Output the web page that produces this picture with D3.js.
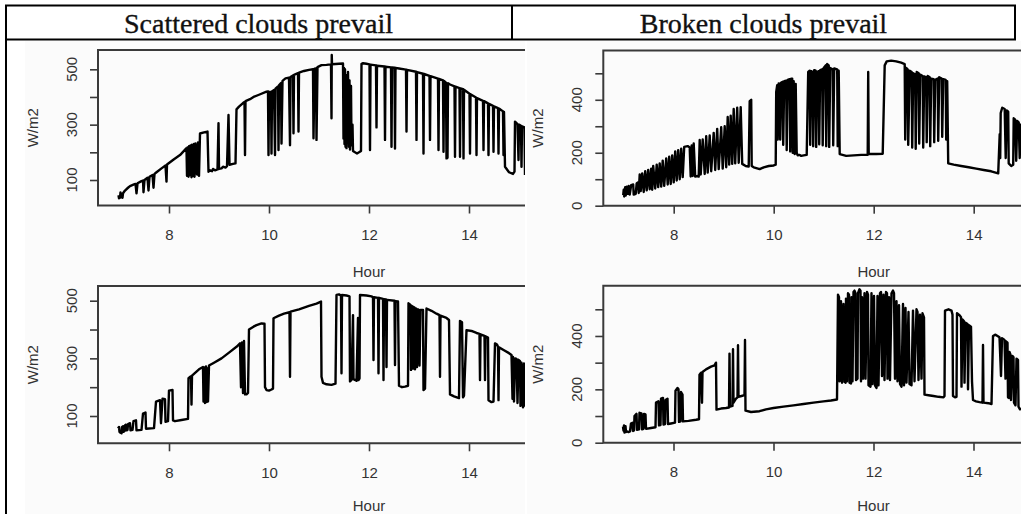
<!DOCTYPE html>
<html><head><meta charset="utf-8">
<script src="https://cdn.jsdelivr.net/npm/d3@7"></script>
<style>
html,body{margin:0;padding:0;background:#fff;}
svg{display:block;}
</style></head>
<body>
<svg id="chart" width="1021" height="514"></svg>
<script>
// ---------- DATA ----------
const headers = ["Scattered clouds prevail", "Broken clouds prevail"];
const xTicks = [8, 10, 12, 14, 16];
const yTicksLeft = [100, 200, 300, 400, 500];
const yLabelsLeft = [100, 300, 500];
const yTicksRight = [0, 100, 200, 300, 400, 500];
const yLabelsRight = [0, 200, 400];
const xTitle = "Hour";
const yTitle = "W/m2";

// [hour, W/m2]
const scatteredTop = [
[6.99,45],[7.00,34],[7.02,36],[7.03,55],[7.05,38],[7.07,36],[7.08,52],[7.12,62],[7.18,72],[7.22,78],
[7.30,84],[7.33,86],[7.35,52],[7.37,88],[7.45,96],[7.48,98],[7.49,56],[7.51,100],[7.57,108],[7.59,62],[7.61,112],[7.67,118],[7.69,72],[7.71,122],[7.75,128],
[7.85,142],[7.93,152],[7.95,94],[7.96,156],[8.10,175],[8.22,190],[8.35,215],
[8.36,115],[8.37,218],[8.39,112],[8.40,222],[8.42,118],[8.43,225],[8.45,110],[8.46,228],[8.48,115],[8.50,230],[8.51,112],[8.53,232],[8.56,120],[8.58,236],[8.60,115],[8.62,268],[8.70,272],[8.77,275],
[8.79,130],[8.82,135],[8.86,132],[8.88,140],[8.92,135],[8.97,138],[8.99,305],[9.00,140],[9.05,142],[9.08,148],[9.13,145],[9.16,150],[9.19,335],[9.21,155],[9.28,158],[9.33,160],[9.35,355],[9.40,365],[9.48,378],[9.51,382],[9.52,190],[9.53,385],[9.62,392],[9.69,400],
[9.80,408],[9.95,419],[9.98,420],[9.99,190],[10.00,418],[10.04,418],[10.05,196],[10.06,420],[10.10,425],[10.12,190],[10.13,430],[10.18,438],[10.19,208],[10.20,442],[10.24,450],[10.25,232],[10.27,458],[10.33,467],[10.40,470],[10.42,226],[10.43,472],[10.48,478],[10.49,269],[10.50,480],[10.58,486],[10.59,275],[10.60,488],[10.70,494],[10.80,498],[10.88,500],[10.89,251],[10.91,502],[10.94,503],[10.95,245],[10.97,508],[11.05,515],[11.15,516],[11.24,518],[11.25,323],[11.255,552],[11.26,518],[11.40,520],[11.48,521],
[11.49,250],[11.50,505],[11.51,230],[11.52,500],[11.53,220],[11.54,480],[11.55,215],[11.56,470],[11.57,235],[11.58,490],[11.60,220],[11.61,460],[11.62,210],[11.64,440],[11.65,225],[11.67,300],[11.68,205],[11.72,200],[11.76,196],[11.80,200],[11.84,205],[11.85,520],[11.88,522],[11.95,520],[12.01,518],[12.02,208],[12.03,517],[12.14,514],[12.15,290],[12.16,513],[12.31,510],[12.32,245],[12.33,509],[12.44,507],[12.45,220],[12.46,507],[12.51,506],[12.52,214],[12.53,505],[12.60,503],[12.74,499],[12.75,275],[12.76,498],[12.94,491],[12.95,245],[12.96,490],[13.08,484],[13.09,196],[13.10,483],[13.21,476],[13.22,245],[13.23,475],[13.38,466],[13.39,208],[13.40,465],[13.48,460],[13.49,202],[13.50,458],[13.54,452],[13.55,178],[13.57,180],[13.58,450],[13.62,445],[13.71,438],[13.72,184],[13.73,437],[13.81,432],[13.82,184],[13.83,431],[13.88,428],[13.89,178],[13.90,426],[14.01,412],[14.02,196],[14.03,410],[14.14,398],[14.15,190],[14.16,396],[14.28,386],[14.29,208],[14.30,385],[14.38,377],[14.39,190],[14.40,375],[14.48,368],[14.49,202],[14.50,366],[14.58,360],[14.59,196],[14.60,358],[14.68,348],[14.69,190],[14.70,346],[14.72,148],[14.80,128],[14.88,122],[14.91,130],[14.92,311],[14.97,302],[14.99,172],[15.00,300],[15.04,296],[15.05,148],[15.06,294],[15.11,290],[15.12,118]
];

const brokenTop = [
[6.99,40],[7.00,60],[7.01,35],[7.03,70],[7.04,38],[7.06,72],[7.08,45],[7.10,75],[7.12,42],[7.15,78],[7.19,80],[7.20,42],[7.24,45],[7.26,85],[7.29,88],[7.30,48],[7.32,118],[7.34,55],[7.37,122],[7.40,52],[7.43,130],[7.46,58],[7.49,135],[7.52,62],[7.55,140],[7.57,60],[7.59,150],[7.63,65],[7.66,155],[7.69,70],[7.72,160],[7.75,72],[7.78,170],[7.81,75],[7.85,178],[7.88,80],[7.91,185],[7.94,82],[7.97,190],[8.00,88],[8.03,205],[8.06,95],[8.09,210],[8.12,100],[8.15,215],[8.18,108],[8.21,222],[8.28,225],[8.32,220],[8.34,110],[8.36,228],[8.38,112],[8.40,235],[8.43,110],[8.47,112],[8.50,110],[8.52,248],[8.54,118],[8.58,250],[8.62,120],[8.65,262],[8.68,125],[8.72,265],[8.75,130],[8.80,275],[8.83,135],[8.87,290],[8.90,138],[8.95,296],[8.98,140],[9.02,300],[9.05,145],[9.08,335],[9.11,155],[9.14,340],[9.17,158],[9.20,365],[9.23,160],[9.27,370],[9.30,162],[9.34,372],[9.37,158],[9.44,150],[9.50,148],[9.52,395],[9.55,400],[9.56,150],[9.60,145],[9.72,138],
[9.80,145],[9.90,150],[10.00,152],[10.04,155],[10.05,430],[10.07,455],[10.08,250],[10.10,462],[10.12,460],[10.13,250],[10.15,465],[10.18,468],[10.19,230],[10.21,470],[10.25,472],[10.26,210],[10.28,475],[10.32,478],[10.33,205],[10.35,480],[10.37,480],[10.38,200],[10.40,470],[10.42,195],[10.44,460],[10.46,200],[10.48,190],[10.52,192],[10.55,188],[10.60,190],[10.66,192],[10.69,505],[10.72,510],[10.73,230],[10.75,508],[10.78,505],[10.79,225],[10.81,512],[10.84,510],[10.85,222],[10.87,505],[10.90,508],[10.91,232],[10.93,512],[10.97,515],[10.98,228],[11.00,520],[11.04,530],[11.05,225],[11.07,535],[11.10,530],[11.11,222],[11.13,520],[11.18,515],[11.19,228],[11.21,518],[11.27,515],[11.28,225],[11.30,510],[11.32,195],[11.45,188],[11.60,190],[11.75,192],[11.88,192],[11.89,505],[11.90,195],[12.05,195],[12.18,196],[12.22,530],[12.26,545],[12.35,548],[12.45,545],[12.55,540],[12.62,535],[12.63,250],[12.65,520],[12.68,515],[12.69,230],[12.72,510],[12.76,505],[12.77,220],[12.79,500],[12.83,495],[12.84,215],[12.86,505],[12.90,500],[12.91,235],[12.93,495],[12.98,490],[12.99,220],[13.01,488],[13.05,485],[13.06,240],[13.08,490],[13.12,485],[13.13,225],[13.15,480],[13.20,478],[13.21,240],[13.23,475],[13.28,480],[13.29,245],[13.31,485],[13.36,480],[13.37,260],[13.39,478],[13.44,475],[13.45,250],[13.47,470],[13.49,160],[13.60,155],[13.75,150],[13.90,145],[14.05,140],[14.20,135],[14.35,130],[14.49,122],[14.52,270],[14.53,180],[14.54,350],[14.57,370],[14.62,365],[14.64,180],[14.66,360],[14.69,355],[14.70,160],[14.75,150],[14.79,155],[14.80,330],[14.83,325],[14.85,170],[14.87,320],[14.90,315],[14.92,180],[14.94,310]
];

const scatteredBottom = [
[6.98,57],[7.00,62],[7.01,45],[7.03,42],[7.05,40],[7.06,62],[7.08,64],[7.09,45],[7.11,48],[7.12,68],[7.14,70],[7.15,50],[7.17,52],[7.18,72],[7.22,75],[7.23,50],[7.27,52],[7.29,82],[7.34,85],[7.35,50],[7.45,52],[7.48,108],[7.53,112],[7.54,56],[7.70,58],[7.74,150],[7.82,155],[7.84,75],[7.87,160],[7.92,158],[7.93,80],[7.98,82],[8.00,188],[8.07,190],[8.08,85],[8.12,82],[8.25,86],[8.38,90],[8.39,231],[8.44,238],[8.45,140],[8.46,240],[8.60,262],[8.68,270],[8.69,150],[8.71,268],[8.72,145],[8.74,272],[8.75,148],[8.77,265],[8.78,150],[8.80,275],[8.90,285],[9.05,300],[9.20,320],[9.35,340],[9.42,352],[9.44,200],[9.46,355],[9.48,180],[9.50,360],[9.52,175],[9.55,175],[9.58,180],[9.60,400],[9.69,410],
[9.75,415],[9.85,421],[9.91,420],[9.92,200],[9.95,190],[10.00,188],[10.05,192],[10.08,195],[10.09,439],[10.20,448],[10.30,455],[10.41,460],[10.42,236],[10.43,462],[10.60,470],[10.80,482],[10.95,490],[11.04,497],[11.05,236],[11.08,215],[11.15,210],[11.25,208],[11.33,212],[11.35,520],[11.40,522],[11.44,518],[11.45,248],[11.46,520],[11.55,518],[11.61,515],[11.62,220],[11.65,225],[11.68,450],[11.69,228],[11.75,222],[11.78,440],[11.79,225],[11.81,230],[11.82,520],[11.95,518],[12.05,515],[12.08,512],[12.09,294],[12.10,512],[12.18,510],[12.19,248],[12.20,510],[12.28,506],[12.29,225],[12.30,505],[12.34,504],[12.35,270],[12.36,503],[12.51,500],[12.52,277],[12.53,498],[12.58,497],[12.60,205],[12.66,200],[12.72,202],[12.78,205],[12.79,491],[12.83,485],[12.84,260],[12.85,482],[12.87,480],[12.88,265],[12.89,478],[12.91,476],[12.92,262],[12.93,474],[12.95,472],[12.96,270],[12.98,470],[13.00,468],[13.01,275],[13.03,468],[13.08,468],[13.09,190],[13.12,195],[13.15,473],[13.25,465],[13.35,455],[13.41,450],[13.42,236],[13.43,448],[13.55,440],[13.60,433],[13.62,175],[13.70,168],[13.80,162],[13.82,430],[13.86,425],[13.88,165],[13.90,170],[13.95,398],[14.05,395],[14.15,388],[14.21,385],[14.22,225],[14.23,383],[14.31,378],[14.32,225],[14.33,376],[14.38,372],[14.39,155],[14.45,148],[14.49,150],[14.52,352],[14.56,348],[14.58,340],[14.59,155],[14.60,338],[14.70,328],[14.80,318],[14.85,312],[14.87,160],[14.88,305],[14.90,150],[14.92,300],[14.95,298],[14.97,145],[14.99,295],[15.02,290],[15.03,135],[15.05,285],[15.08,130],[15.10,282],[15.12,132]
];

const brokenBottom = [
[6.99,60],[7.00,45],[7.01,65],[7.02,38],[7.04,62],[7.05,40],[7.07,42],[7.10,40],[7.13,42],[7.15,72],[7.18,75],[7.19,44],[7.21,46],[7.22,100],[7.26,108],[7.27,48],[7.31,50],[7.32,112],[7.36,110],[7.37,50],[7.40,52],[7.41,108],[7.44,106],[7.45,52],[7.55,55],[7.64,58],[7.65,150],[7.70,155],[7.71,65],[7.74,66],[7.75,165],[7.79,168],[7.80,68],[7.83,70],[7.84,160],[7.88,165],[7.89,70],[7.95,72],[8.03,75],[8.04,195],[8.08,205],[8.10,200],[8.11,78],[8.14,80],[8.15,190],[8.18,180],[8.19,80],[8.30,82],[8.45,86],[8.51,88],[8.52,255],[8.55,262],[8.57,150],[8.58,265],[8.65,275],[8.75,285],[8.82,290],[8.85,300],[8.86,124],[8.95,128],[9.05,130],[9.11,132],[9.12,334],[9.13,135],[9.18,138],[9.19,350],[9.20,150],[9.25,165],[9.28,170],[9.29,365],[9.30,172],[9.36,175],[9.42,178],[9.43,385],[9.44,120],[9.55,115],[9.72,118],
[9.85,125],[10.0,130],[10.2,135],[10.4,140],[10.6,145],[10.8,150],[11.0,155],[11.15,158],[11.27,162],
[11.29,555],[11.31,545],[11.32,230],[11.34,235],[11.35,530],[11.37,225],[11.40,520],[11.42,228],[11.44,225],[11.45,540],[11.47,230],[11.49,560],[11.51,555],[11.52,225],[11.55,222],[11.56,545],[11.58,230],[11.60,565],[11.62,570],[11.64,560],[11.65,235],[11.68,240],[11.69,560],[11.72,575],[11.74,570],[11.75,230],[11.77,545],[11.79,240],[11.82,560],[11.84,240],[11.87,565],[11.89,555],[11.90,215],[11.94,210],[11.96,560],[11.98,220],[12.01,550],[12.03,215],[12.06,205],[12.08,550],[12.10,215],[12.13,560],[12.15,565],[12.17,250],[12.20,555],[12.22,235],[12.25,565],[12.27,560],[12.28,240],[12.31,545],[12.33,235],[12.36,560],[12.39,570],[12.41,560],[12.43,240],[12.46,530],[12.48,230],[12.51,515],[12.53,220],[12.56,210],[12.59,520],[12.61,215],[12.64,505],[12.66,225],[12.70,490],[12.72,220],[12.76,215],[12.79,495],[12.82,230],[12.86,500],[12.88,490],[12.90,235],[12.93,480],[12.96,240],[12.98,485],[13.01,470],[13.02,180],[13.10,178],[13.20,175],[13.30,172],[13.40,170],[13.42,175],[13.43,495],[13.50,500],[13.56,495],[13.58,480],[13.59,175],[13.63,170],[13.66,172],[13.67,485],[13.72,478],[13.75,470],[13.76,210],[13.78,462],[13.81,455],[13.82,225],[13.84,450],[13.88,445],[13.89,200],[13.91,440],[13.95,435],[13.97,230],[13.99,160],[14.05,155],[14.12,152],[14.18,150],[14.19,366],[14.20,150],[14.30,148],[14.36,145],[14.39,400],[14.44,405],[14.52,395],[14.55,250],[14.57,392],[14.62,385],[14.64,240],[14.65,380],[14.68,375],[14.69,170],[14.71,168],[14.72,340],[14.74,330],[14.75,160],[14.78,325],[14.80,320],[14.81,150],[14.84,140],[14.86,315],[14.89,310],[14.90,135],[14.93,125],[14.95,130]
];

// ---------- DRAWING ----------
const svg = d3.select("#chart");
svg.append("rect").attr("width",1021).attr("height",514).attr("fill","#fff");
// plot image backgrounds (slightly off-white)
svg.append("rect").attr("x",25).attr("y",41).attr("width",500).attr("height",473).attr("fill","#fbfbfb");
svg.append("rect").attr("x",527).attr("y",41).attr("width",494).attr("height",473).attr("fill","#fbfbfb");

const sansFont = "'Liberation Sans', Arial, Helvetica, sans-serif";
const fs = 15;

const panels = [
  {id:"tl", data:scatteredTop, box:[98,525,50,205.5], xr:[169,469], yd:[100,500], yr:[180,69.3],
   yTicks:yTicksLeft, yLabels:yLabelsLeft, tickLabX:72, yTitleX:33, hourY:272},
  {id:"tr", data:brokenTop, box:[603.3,1021,50.5,205.7], xr:[673.7,973.7], yd:[0,500], yr:[205.7,73.3],
   yTicks:yTicksRight, yLabels:yLabelsRight, tickLabX:577, yTitleX:538, hourY:272},
  {id:"bl", data:scatteredBottom, box:[98,525,286,443.3], xr:[169,469], yd:[100,500], yr:[416,300.7],
   yTicks:yTicksLeft, yLabels:yLabelsLeft, tickLabX:72, yTitleX:33, hourY:505.5},
  {id:"br", data:brokenBottom, box:[603.3,1021,285.7,442.7], xr:[673.5,973.5], yd:[0,500], yr:[442.7,309.3],
   yTicks:yTicksRight, yLabels:yLabelsRight, tickLabX:577, yTitleX:538, hourY:505.5}
];

const defs = svg.append("defs");

panels.forEach(p => {
  const [x0,x1,y0,y1] = p.box;
  const x = d3.scaleLinear().domain([8,14]).range(p.xr);
  const y = d3.scaleLinear().domain(p.yd).range(p.yr);
  const g = svg.append("g");

  defs.append("clipPath").attr("id","clip-"+p.id)
    .append("rect").attr("x",x0).attr("y",y0).attr("width",x1-x0).attr("height",y1-y0);

  // data line
  const line = d3.line().x(d=>x(d[0])).y(d=>y(d[1]));
  g.append("path").datum(p.data)
    .attr("clip-path","url(#clip-"+p.id+")")
    .attr("d",line)
    .attr("fill","none").attr("stroke","#000").attr("stroke-width",2.4)
    .attr("stroke-linejoin","round");

  // box (right side cropped in the original)
  g.append("path")
    .attr("d",`M${x1},${y0}H${x0}V${y1}H${x1}`)
    .attr("fill","none").attr("stroke","#3a3a3a").attr("stroke-width",2);

  // x axis
  const xa = d3.axisBottom(x)
    .tickValues(xTicks.filter(t => x(t) <= x1 - 2))
    .tickSize(8).tickPadding(16).tickFormat(d3.format("d"));
  const gx = g.append("g").attr("transform",`translate(0,${y1})`).call(xa);
  gx.select(".domain").remove();
  gx.selectAll(".tick line").attr("stroke","#3a3a3a").attr("stroke-width",1.6);
  gx.selectAll(".tick text").attr("font-family",sansFont).attr("font-size",fs).attr("fill","#333");

  // y axis
  const ya = d3.axisLeft(y).tickValues(p.yTicks).tickSize(8).tickFormat("");
  const gy = g.append("g").attr("transform",`translate(${x0},0)`).call(ya);
  gy.select(".domain").remove();
  gy.selectAll(".tick line").attr("stroke","#3a3a3a").attr("stroke-width",1.6);

  // rotated y tick labels
  p.yLabels.forEach(v => {
    const bx = p.tickLabX + 0.36*fs, by = y(v);
    g.append("text").text(v)
      .attr("x",bx).attr("y",by)
      .attr("transform",`rotate(-90,${bx},${by})`)
      .attr("text-anchor","middle")
      .attr("font-family",sansFont).attr("font-size",fs).attr("fill","#333");
  });

  // y title
  const tx = p.yTitleX + 0.36*fs, ty = (y0+y1)/2;
  g.append("text").text(yTitle)
    .attr("x",tx).attr("y",ty)
    .attr("transform",`rotate(-90,${tx},${ty})`)
    .attr("text-anchor","middle")
    .attr("font-family",sansFont).attr("font-size",fs).attr("fill","#333");

  // x title
  g.append("text").text(xTitle)
    .attr("x",x(12)).attr("y",p.hourY + 0.36*fs)
    .attr("text-anchor","middle")
    .attr("font-family",sansFont).attr("font-size",fs).attr("fill","#333");
});

// ---------- TABLE FRAME ----------
const frame = svg.append("g").attr("stroke","#000").attr("stroke-width",2).attr("fill","none");
frame.append("line").attr("x1",5).attr("x2",1016).attr("y1",5.5).attr("y2",5.5);
frame.append("line").attr("x1",5).attr("x2",1016).attr("y1",39.5).attr("y2",39.5);
frame.append("line").attr("x1",6).attr("x2",6).attr("y1",5).attr("y2",514);
frame.append("line").attr("x1",512).attr("x2",512).attr("y1",5).attr("y2",40);
frame.append("line").attr("x1",1015).attr("x2",1015).attr("y1",5).attr("y2",40);

const serif = "'Liberation Serif', 'Times New Roman', serif";
svg.append("text").text(headers[0]).attr("x",258.5).attr("y",33)
  .attr("text-anchor","middle").attr("font-family",serif).attr("font-size",28)
  .attr("fill","#111").attr("stroke","#111").attr("stroke-width",0.35);
svg.append("text").text(headers[1]).attr("x",763.5).attr("y",33)
  .attr("text-anchor","middle").attr("font-family",serif).attr("font-size",28)
  .attr("fill","#111").attr("stroke","#111").attr("stroke-width",0.35);
</script>
</body></html>
